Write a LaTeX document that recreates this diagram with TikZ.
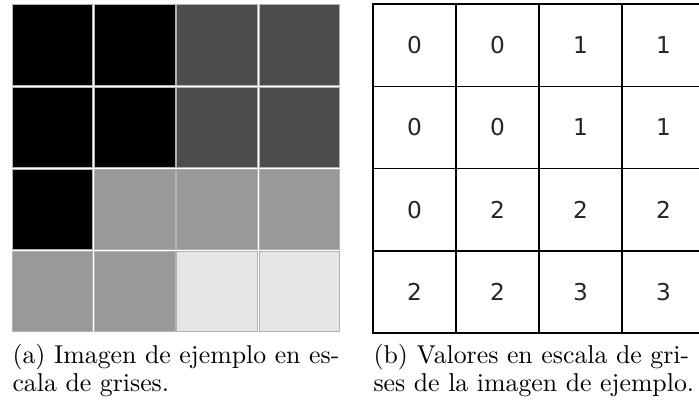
\documentclass[tikz,border=0pt]{standalone}
\usepackage{fontspec}
\newfontfamily\digitfont{DejaVu Sans}
\colorlet{shade0}{black}
\colorlet{shade1}{black!70}
\colorlet{shade2}{black!40}
\colorlet{shade3}{black!10}
\begin{document}
\begin{tikzpicture}[x=0.3876pt,y=-0.3876pt,
  pixelcell/.style={rectangle, inner sep=0pt, minimum size=31.16pt,
    draw=black!30, line width=0.31pt},
  valuecell/.style={rectangle, inner sep=0pt, minimum width=32.17pt,
    minimum height=31.9pt, draw=black, line width=0.55pt,
    font=\digitfont\fontsize{9}{10}\selectfont, text=black!85},
  captionline/.style={anchor=base west, inner sep=0pt,
    font=\fontsize{10}{12}\selectfont}]
  \useasboundingbox (0,0) rectangle (699,408);
  \fill[white] (0,0) rectangle (699,408);
  \begin{scope}
    \clip (0,0) rectangle (699,408);
    % grey-level image (left) and its values (right)
    \foreach \row [count=\j from 0] in {{0,0,1,1},{0,0,1,1},{0,2,2,2},{2,2,3,3}} {
      \foreach \v [count=\i from 0] in \row {
        \node[pixelcell, fill=shade\v] (img-\i-\j)
          at ({11.5+\i*82.2+41.1},{4+\j*82.2+41.1}) {};
        \node[valuecell] (val-\i-\j)
          at ({373+\i*83+41.5},{4+\j*82.3+41.15}) {\v};
      }
    }
  \end{scope}
  % sub-captions
  \node[captionline] (capa1) at (12,363) {(a) Imagen de ejemplo en es-};
  \node[captionline] (capa2) at (12,391) {cala de grises.};
  \node[captionline] (capb1) at (373,363) {(b) Valores en escala de gri-};
  \node[captionline] (capb2) at (373,391) {ses de la imagen de ejemplo.};
\end{tikzpicture}
\end{document}
